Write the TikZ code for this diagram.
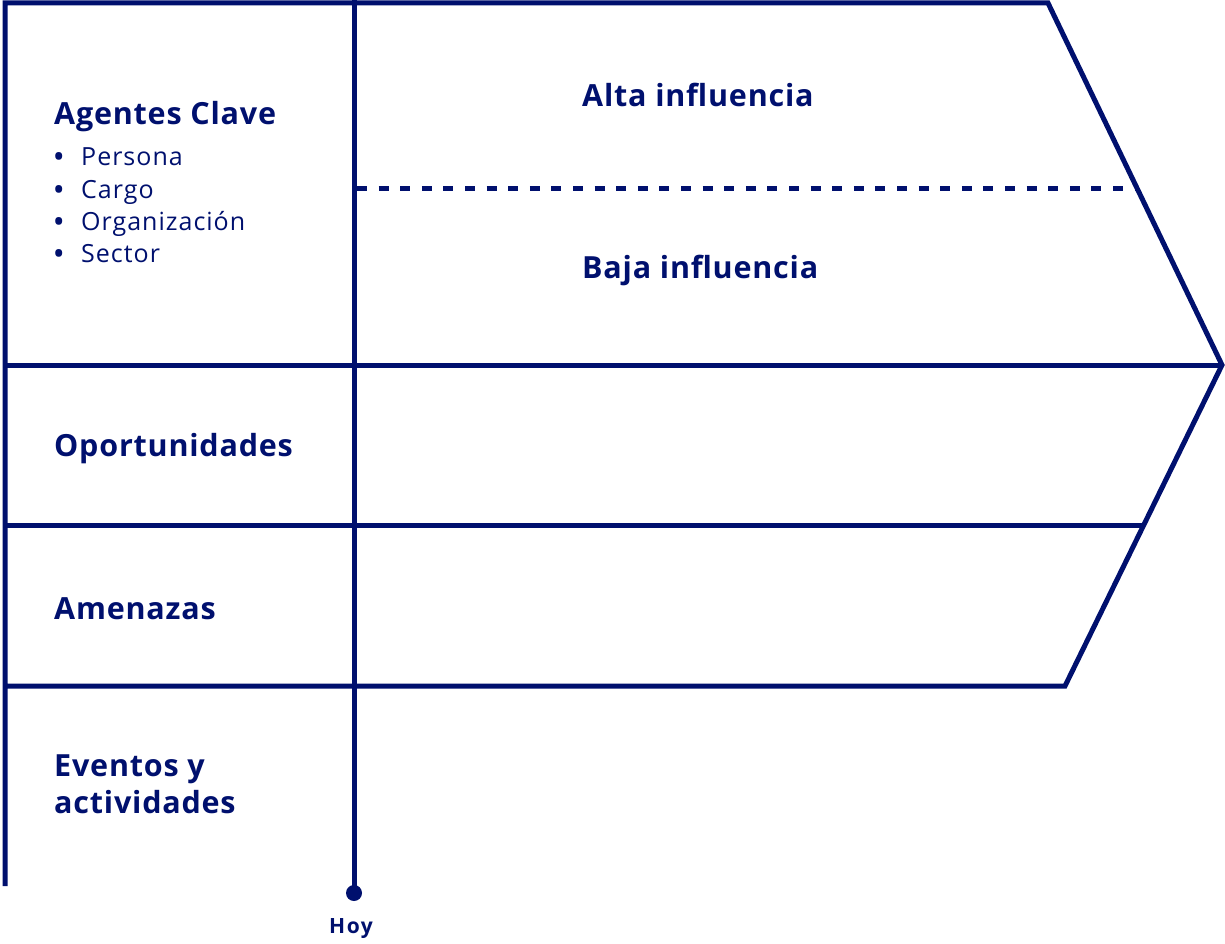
\documentclass[tikz,border=0pt]{standalone}
\usepackage{fontspec}
\setmainfont{Open Sans}
\definecolor{navy}{RGB}{0,16,110}
\begin{document}
\begin{tikzpicture}[x=1pt,y=-1pt,
  frame/.style={line width=5pt, draw=navy, line join=miter},
  divider/.style={line width=5pt, draw=navy, dash pattern=on 10pt off 11.6pt},
  head/.style={font=\addfontfeatures{LetterSpace=2.6}\bfseries\fontsize{30.5}{36}\selectfont, text=navy, inner sep=0pt, anchor=base west},
  item/.style={font=\addfontfeatures{LetterSpace=4}\fontsize{25}{30}\selectfont, text=navy, inner sep=0pt, anchor=base west},
  small/.style={font=\addfontfeatures{LetterSpace=7}\bfseries\fontsize{21}{25}\selectfont, text=navy, inner sep=0pt, anchor=base}]
\useasboundingbox (0,0) rectangle (1225,944);
% outline
\coordinate (lb) at (5,886);
\coordinate (lt) at (5,3);
\coordinate (tr) at (1048,3);
\coordinate (tip) at (1222,365);
\coordinate (br) at (1065,686);
\coordinate (bl) at (5,686);
\coordinate (m1l) at (5,365);
\coordinate (m2l) at (5,525);
\coordinate (m2r) at (1144,525);
\coordinate (dl) at (357,189);
\coordinate (dr) at (1137,189);
\coordinate (vt) at (354,0);
\node[circle, fill=navy, inner sep=0pt, minimum size=16pt] (hoydot) at (354,893) {};
\draw[frame] (lb) -- (lt) -- (tr) -- (tip) -- (br) -- (bl);
\draw[frame] (m1l) -- (tip);
\draw[frame] (m2l) -- (m2r);
\draw[frame] (vt) -- (hoydot.center);
\draw[divider] (dl) -- (dr);
% texts
\node[head] (agentes) at (54,125) {Agentes Clave};
\node[item] (p1) at (54,166) {\makebox[27pt][l]{\textbf{•}}Persona};
\node[item] (p2) at (54,198) {\makebox[27pt][l]{\textbf{•}}Cargo};
\node[item] (p3) at (54,230) {\makebox[27pt][l]{\textbf{•}}Organización};
\node[item] (p4) at (54,262) {\makebox[27pt][l]{\textbf{•}}Sector};
\node[head] (alta) at (582,107) {Alta influencia};
\node[head] (baja) at (582,278) {Baja influencia};
\node[head] (oport) at (54,456) {Oportunidades};
\node[head] (amen) at (54,619) {Amenazas};
\node[head] (ev1) at (54,776) {Eventos y};
\node[head] (ev2) at (54,813) {actividades};
\node[small] (hoy) at (351,933) {Hoy};
\end{tikzpicture}
\end{document}
